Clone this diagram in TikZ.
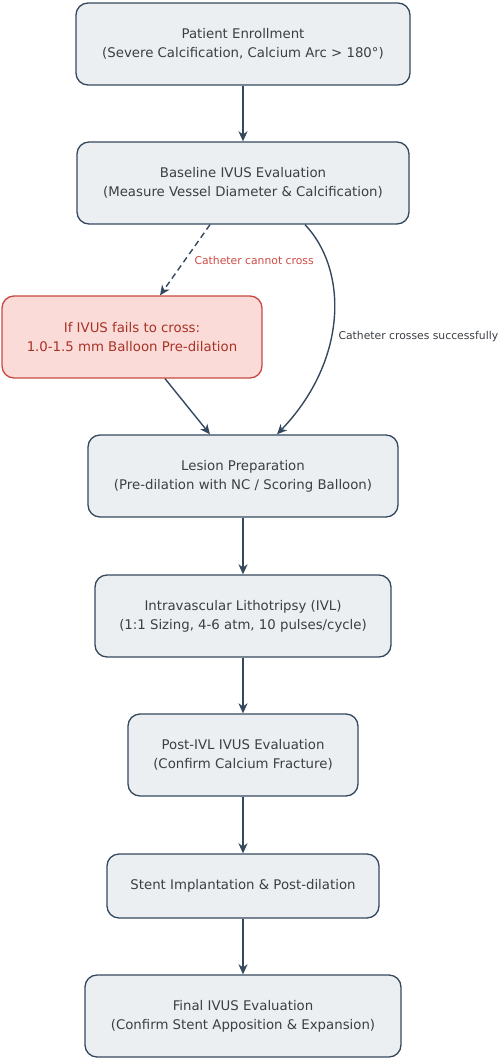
\documentclass[tikz,border=0pt]{standalone}
\usepackage{fontspec}
\setmainfont{DejaVu Sans}
\usepackage{tikz}
\usetikzlibrary{positioning,calc,arrows.meta}
\definecolor{boxfill}{HTML}{ECEFF1}
\definecolor{boxline}{HTML}{34495E}
\definecolor{failfill}{HTML}{FADBD8}
\definecolor{failline}{HTML}{C94A42}
\definecolor{failtext}{HTML}{A93226}
\definecolor{labelred}{HTML}{CD4B45}
\definecolor{txtgray}{HTML}{3A3F44}
\begin{document}
\begin{tikzpicture}[x=1pt, y=-1pt,
		stepbox/.style={rectangle, rounded corners=12pt, fill=boxfill, draw=boxline, line width=1.3pt, align=center, text=txtgray, font=\fontsize{13.3}{19}\selectfont, minimum height=82pt},
		failbox/.style={stepbox, fill=failfill, draw=failline, text=failtext},
		flow/.style={-{Stealth[length=10pt,width=9pt,inset=3pt]}, draw=boxline, line width=1.4pt},
		note/.style={font=\fontsize{10.8}{12}\selectfont, anchor=west}]
		\useasboundingbox (0,0) rectangle (500,1059);
		\node[stepbox, minimum width=334pt] (enroll) at (243,44) {Patient Enrollment\\(Severe Calcification, Calcium Arc > 180°)};
		\node[stepbox, minimum width=332pt] (base) at (243,183) {Baseline IVUS Evaluation\\(Measure Vessel Diameter \& Calcification)};
		\node[failbox, minimum width=260pt] (fail) at (132,337) {If IVUS fails to cross:\\1.0-1.5 mm Balloon Pre-dilation};
		\node[stepbox, minimum width=310pt] (prep) at (243,476) {Lesion Preparation\\(Pre-dilation with NC / Scoring Balloon)};
		\node[stepbox, minimum width=296pt] (ivl) at (243,616) {Intravascular Lithotripsy (IVL)\\(1:1 Sizing, 4-6 atm, 10 pulses/cycle)};
		\node[stepbox, minimum width=230pt] (post) at (243,755) {Post-IVL IVUS Evaluation\\(Confirm Calcium Fracture)};
		\node[stepbox, minimum width=272pt, minimum height=64pt] (stent) at (243,886) {Stent Implantation \& Post-dilation};
		\node[stepbox, minimum width=316pt] (final) at (243,1016) {Final IVUS Evaluation\\(Confirm Stent Apposition \& Expansion)};
		\node[note, text=labelred] (nocross) at (191,260) {Catheter cannot cross};
		\node[note, text=txtgray] (cross) at (335,337) {Catheter crosses successfully};
		
		\draw[flow, dash pattern=on 6pt off 4pt] ([xshift=-33pt]base.south) -- ([xshift=28pt]fail.north);
		\draw[flow] (enroll) -- (base);
		\draw[flow] ([xshift=62pt]base.south) .. controls (348,270) and (348,360) .. ([xshift=34pt]prep.north);
		\draw[flow] ([xshift=33pt]fail.south) -- ([xshift=-33pt]prep.north);
		\draw[flow] (prep) -- (ivl);
		\draw[flow] (ivl) -- (post);
		\draw[flow] (post) -- (stent);
		\draw[flow] (stent) -- (final);
	\end{tikzpicture}
\end{document}
